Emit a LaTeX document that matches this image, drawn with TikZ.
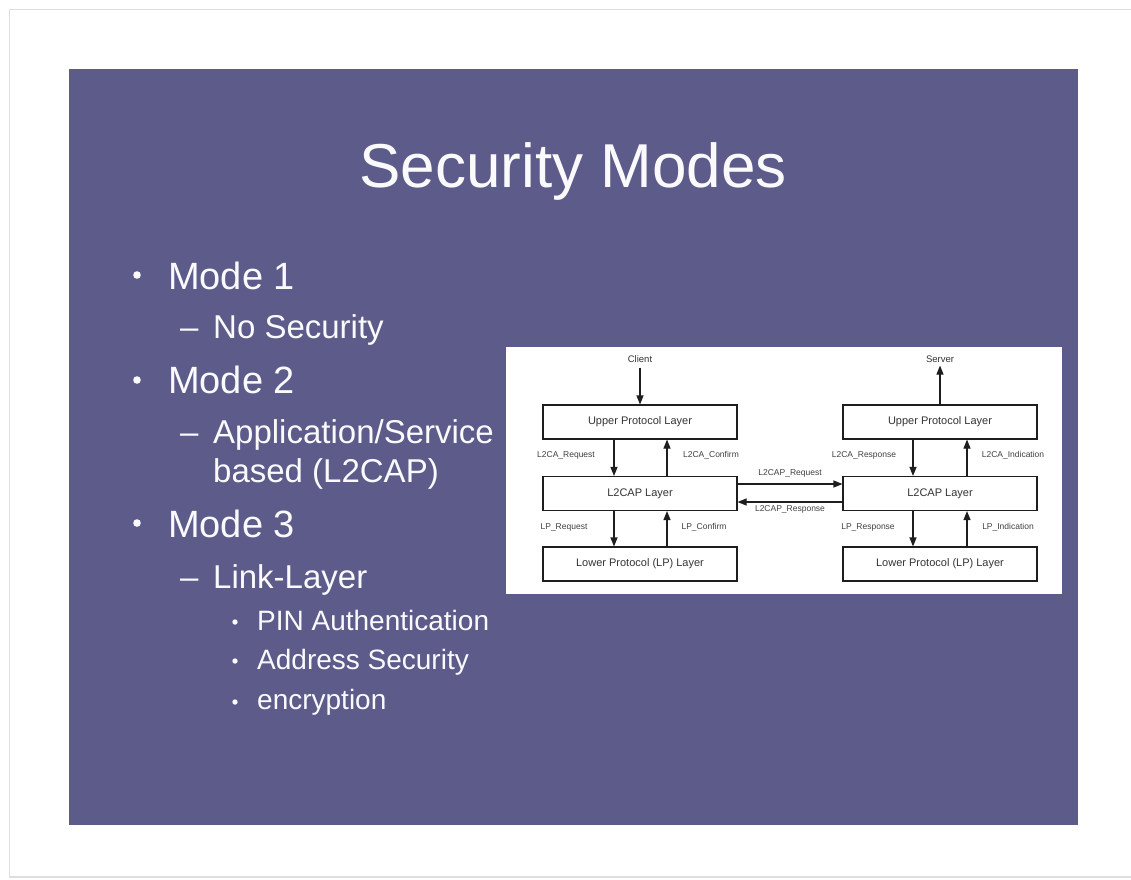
\documentclass[tikz,border=0pt]{standalone}
\usepackage{fontspec}
\setmainfont{Liberation Sans}
\usetikzlibrary{arrows.meta}
\definecolor{slidebg}{RGB}{92,91,138}
\definecolor{slidetext}{RGB}{250,250,252}
\definecolor{inkline}{RGB}{30,30,30}
\begin{document}
\begin{tikzpicture}[x=1pt,y=-1pt,
  title/.style={anchor=base, inner sep=0pt, text=slidetext, font=\fontsize{62}{70}\selectfont},
  lvlone/.style={anchor=base west, inner sep=0pt, text=slidetext, font=\fontsize{38}{44}\selectfont},
  lvltwo/.style={anchor=base west, inner sep=0pt, text=slidetext, font=\fontsize{33}{38}\selectfont},
  lvlthree/.style={anchor=base west, inner sep=0pt, text=slidetext, font=\fontsize{28}{32}\selectfont},
  layerbox/.style={draw=inkline, line width=1.1pt, fill=white, minimum width=194pt,
    minimum height=34pt, inner sep=0pt, font=\fontsize{11}{13}\selectfont, text=black!80},
  endpoint/.style={inner sep=0pt, font=\fontsize{9.5}{11}\selectfont, text=black!80},
  flowlbl/.style={inner sep=0pt, font=\fontsize{8.5}{10}\selectfont, text=black!75},
  flow/.style={draw=inkline, line width=1.1pt, -{Triangle[length=9pt,width=7pt]}}
]
% page and slide frame
\useasboundingbox (0,0) rectangle (1131,879);
\fill[white] (0,0) rectangle (1131,879);
\draw[black!13, line width=1.6pt] (1131,9.5) -- (9.5,9.5) -- (9.5,877) -- (1131,877);
\fill[slidebg] (69,69) rectangle (1078,825);

% title
\node[title] (ttl) at (573,187) {Security Modes};

% bullet list
\foreach \y in {275,380,523} \fill[slidetext] (137,\y) circle (3.8);
\foreach \y in {622,661,702} \fill[slidetext] (235,\y) circle (2.7);
\node[lvlone] (m1) at (168,289) {Mode 1};
\node[lvltwo] (d1) at (180,338) {–};
\node[lvltwo] (m1a) at (213,338) {No Security};
\node[lvlone] (m2) at (168,393) {Mode 2};
\node[lvltwo] (d2) at (180,443) {–};
\node[lvltwo] (m2a) at (213,443) {Application/Service};
\node[lvltwo] (m2b) at (213,482) {based (L2CAP)};
\node[lvlone] (m3) at (168,537) {Mode 3};
\node[lvltwo] (d3) at (180,588) {–};
\node[lvltwo] (m3a) at (213,588) {Link-Layer};
\node[lvlthree] (m3b) at (257,630) {PIN Authentication};
\node[lvlthree] (m3c) at (257,669) {Address Security};
\node[lvlthree] (m3d) at (257,709) {encryption};

% protocol stack figure
\fill[white] (506,347) rectangle (1062,594);

\node[endpoint] (client) at (640,359) {Client};
\node[endpoint] (server) at (940,359) {Server};

\node[layerbox] (cUp) at (640,422) {Upper Protocol Layer};
\node[layerbox] (cL2) at (640,493.5) {L2CAP Layer};
\node[layerbox] (cLo) at (640,564) {Lower Protocol (LP) Layer};
\node[layerbox] (sUp) at (940,422) {Upper Protocol Layer};
\node[layerbox] (sL2) at (940,493.5) {L2CAP Layer};
\node[layerbox] (sLo) at (940,564) {Lower Protocol (LP) Layer};

% client stack
\draw[flow] ([yshift=-5pt]client.south) -- (cUp.north);
\draw[flow] ([xshift=-26pt]cUp.south) -- ([xshift=-26pt]cL2.north);
\draw[flow] ([xshift=27pt]cL2.north) -- ([xshift=27pt]cUp.south);
\draw[flow] ([xshift=-26pt]cL2.south) -- ([xshift=-26pt]cLo.north);
\draw[flow] ([xshift=27pt]cLo.north) -- ([xshift=27pt]cL2.south);
\node[flowlbl] (lc1) at (566,455) {L2CA\_Request};
\node[flowlbl] (lc2) at (711,455) {L2CA\_Confirm};
\node[flowlbl] (lc3) at (564,527) {LP\_Request};
\node[flowlbl] (lc4) at (704,527) {LP\_Confirm};

% server stack
\draw[flow] (sUp.north) -- ([yshift=-3pt]server.south);
\draw[flow] ([xshift=-27pt]sUp.south) -- ([xshift=-27pt]sL2.north);
\draw[flow] ([xshift=27pt]sL2.north) -- ([xshift=27pt]sUp.south);
\draw[flow] ([xshift=-27pt]sL2.south) -- ([xshift=-27pt]sLo.north);
\draw[flow] ([xshift=27pt]sLo.north) -- ([xshift=27pt]sL2.south);
\node[flowlbl] (ls1) at (864,455) {L2CA\_Response};
\node[flowlbl] (ls2) at (1013,455) {L2CA\_Indication};
\node[flowlbl] (ls3) at (868,527) {LP\_Response};
\node[flowlbl] (ls4) at (1008,527) {LP\_Indication};

% peer exchange between the L2CAP layers
\draw[flow] ([yshift=9.5pt]cL2.east) -- ([yshift=9.5pt]sL2.west);
\draw[flow] ([yshift=-8.5pt]sL2.west) -- ([yshift=-8.5pt]cL2.east);
\node[flowlbl] (lp1) at (790,473) {L2CAP\_Request};
\node[flowlbl] (lp2) at (790,509) {L2CAP\_Response};
\end{tikzpicture}
\end{document}
